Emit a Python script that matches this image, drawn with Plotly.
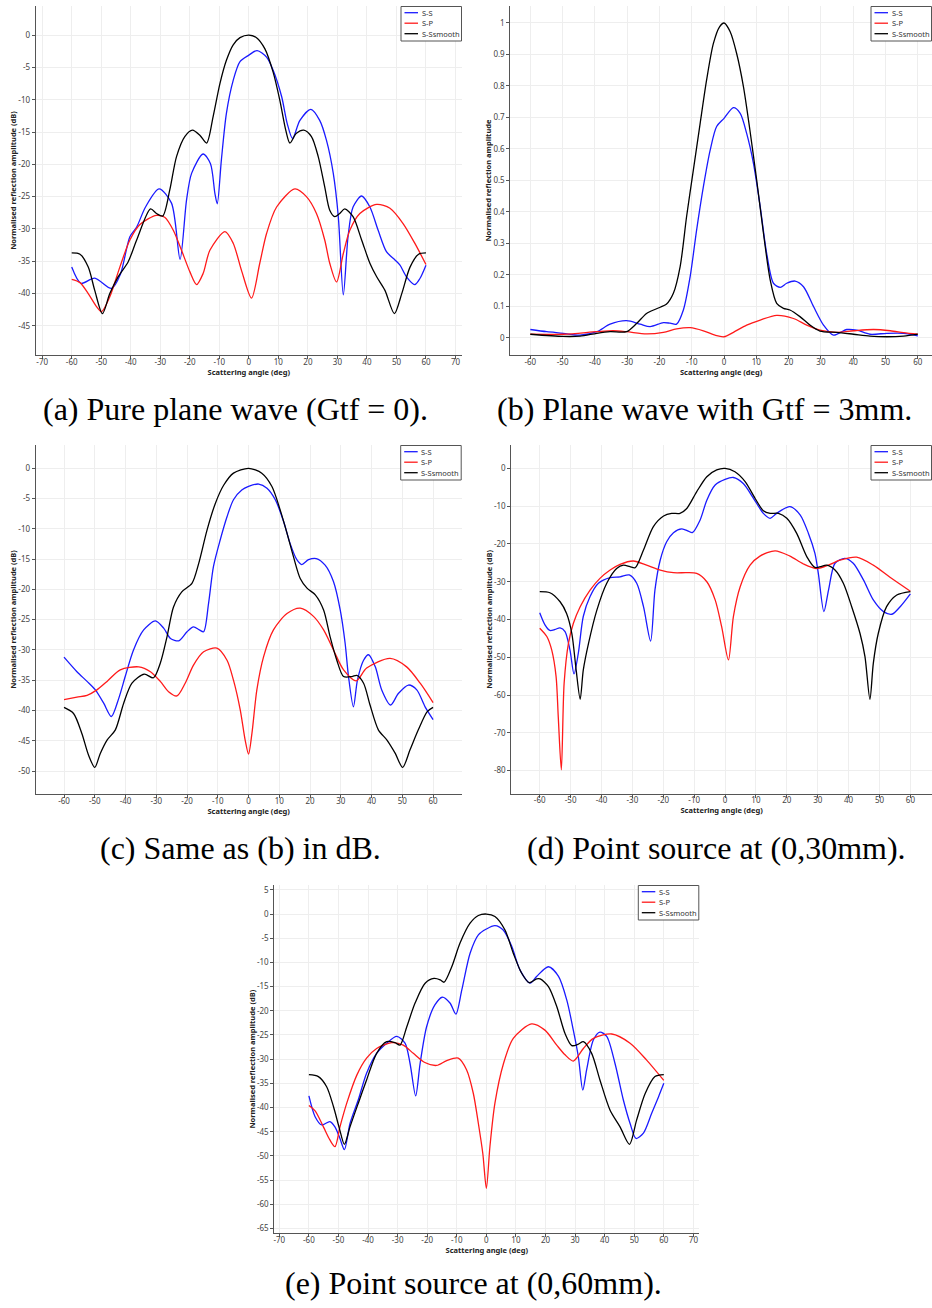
import plotly.graph_objects as go

# ---------------- data ----------------
# (a) Pure plane wave, dB
a_ss_x = [-60, -56.9, -52.2, -46.5, -43.5, -40.3, -38, -35, -30.4, -26.2, -23.3, -21.1, -19.4, -15.5, -13, -11.5, -10.7, -9.3, -7.6, -5.3, -3, 0, 2.8, 6, 8.2, 11.1, 13, 14.8, 17.3, 21, 24, 26.3, 28.6, 30.3, 32, 33.6, 35.3, 38.2, 41, 43.8, 46.6, 49.5, 51.2, 53.4, 56.2, 57.9, 60]
a_ss_y = [-35.9, -38.4, -37.6, -39.2, -37.0, -31.2, -29.7, -26.6, -23.8, -26, -34.7, -25.5, -21.4, -18.4, -19.9, -24.5, -26.1, -19.3, -12.1, -7, -4.1, -3.1, -2.4, -3.4, -5.4, -9.5, -13.7, -16, -13.2, -11.5, -13.2, -16.3, -21.4, -28.1, -40.2, -31.2, -26.6, -24.9, -26.6, -30.2, -33.5, -34.8, -35.6, -37.4, -38.6, -37.7, -35.6]
a_sp_x = [-60, -57.2, -54.4, -51.6, -49.9, -47.1, -43.7, -40.3, -36.9, -31.3, -28.5, -25.6, -22.8, -20, -17.7, -15.5, -13.2, -8.1, -5.3, -2.5, 0.9, 3.7, 6, 9.4, 15.6, 19.5, 22.9, 25.7, 27.4, 29.7, 32, 34.2, 37.6, 43.3, 47.8, 52.3, 56.2, 60]
a_sp_y = [-37.8, -38.3, -40, -42, -42.8, -40.5, -35.9, -31.7, -29.3, -27.9, -28.2, -30.2, -33.3, -36.6, -38.6, -36.9, -33.3, -30.4, -32.2, -36.4, -40.7, -35.3, -30.7, -26.6, -23.8, -25, -27.6, -31.7, -35.3, -38.2, -33.8, -30.2, -27.6, -26.2, -26.8, -29.2, -32.2, -35.5]
a_sm_x = [-60, -57.2, -54.4, -52.2, -49.6, -47.1, -44.3, -40.9, -38, -33.3, -31.3, -29.2, -26.8, -24.5, -21.7, -19.1, -16.6, -14.3, -12.1, -9.8, -7.6, -5.3, -3, 0, 2.6, 5.4, 8.2, 10.5, 12.5, 13.9, 16.1, 18.6, 21.2, 23.5, 25.7, 27.4, 29.1, 30.8, 32.5, 35.3, 38.2, 41, 43.3, 46.1, 49.3, 51.8, 54.6, 57.5, 60]
a_sm_y = [-33.7, -33.9, -35.9, -39.5, -43.1, -40, -37.4, -35.1, -31.7, -26.9, -27.6, -28, -24, -18.8, -15.7, -14.7, -15.5, -16.7, -12.6, -7.5, -3.9, -1.5, -0.4, 0, -0.4, -2.1, -5.7, -10.1, -14.7, -16.7, -15.2, -14.7, -15.7, -18.8, -23.5, -27.1, -28.1, -27.6, -26.9, -28.1, -31.7, -35.3, -37.4, -39.5, -43.1, -40, -35.9, -33.9, -33.7]

# (b) Plane wave with Gtf = 3mm, linear
b_ss_x = [-60, -54.9, -49.8, -44.6, -39.4, -35.3, -30.2, -26, -22.9, -18.8, -16.7, -14.7, -12.6, -10.5, -8.5, -6.4, -4.3, -2.3, 0, 2.9, 5, 7, 9.1, 11.2, 13.2, 15.3, 17.4, 19.4, 22, 24.6, 27.7, 30.8, 33.9, 38, 41.1, 45.2, 50.4, 55.6, 60]
b_ss_y = [0.026, 0.019, 0.014, 0.008, 0.019, 0.043, 0.054, 0.043, 0.035, 0.048, 0.046, 0.043, 0.088, 0.194, 0.342, 0.48, 0.596, 0.671, 0.697, 0.731, 0.713, 0.649, 0.554, 0.416, 0.268, 0.173, 0.16, 0.173, 0.18, 0.162, 0.099, 0.04, 0.008, 0.026, 0.024, 0.011, 0.014, 0.014, 0.006]
b_sp_x = [-60, -49.8, -39.4, -34.3, -30.2, -24, -18.8, -14.7, -10.5, -6.4, -2.8, 0, 2.9, 7, 11.2, 16.3, 21.5, 25.6, 29.7, 34.9, 40.1, 46.3, 51.5, 55.6, 60]
b_sp_y = [0.011, 0.011, 0.019, 0.022, 0.019, 0.012, 0.017, 0.028, 0.032, 0.022, 0.008, 0.003, 0.017, 0.04, 0.056, 0.071, 0.061, 0.04, 0.024, 0.017, 0.022, 0.026, 0.022, 0.016, 0.011]
b_sm_x = [-60, -49.8, -44.6, -39.4, -35.3, -30.2, -27.1, -24, -20.9, -17.8, -15.7, -13.6, -11.6, -9.5, -7.4, -5.4, -3.3, -1.4, 0, 1.9, 3.9, 6, 8, 10.1, 12.2, 14.3, 16.3, 18.4, 20.4, 23.5, 26.6, 29.7, 34.9, 40.1, 45.2, 50.4, 55.6, 60]
b_sm_y = [0.011, 0.004, 0.005, 0.014, 0.019, 0.019, 0.045, 0.077, 0.092, 0.107, 0.141, 0.226, 0.385, 0.533, 0.681, 0.819, 0.935, 0.988, 1.0, 0.972, 0.903, 0.798, 0.66, 0.501, 0.332, 0.183, 0.109, 0.093, 0.088, 0.067, 0.04, 0.021, 0.017, 0.011, 0.005, 0.003, 0.005, 0.011]

# (c) Same as (b) in dB
c_ss_x = [-60, -55.8, -52.5, -49.8, -47.1, -44.6, -42.2, -40.1, -37.4, -34.1, -30.3, -27.6, -25.4, -22.7, -20, -17.9, -16, -14.6, -13, -11.4, -9.2, -7, -4.9, -2.2, 0, 3.3, 6, 8.7, 11.4, 13.5, 15.7, 17.3, 19.5, 22, 24.9, 27.6, 29.8, 31.4, 32.5, 34.1, 35.4, 37.4, 39, 41.2, 43.3, 46.2, 48.7, 52, 54.7, 57.4, 60]
c_ss_y = [-31.2, -33.6, -35.2, -36.6, -38.8, -41, -38, -34.4, -30, -26.7, -25.2, -26.4, -28.1, -28.5, -27, -26.2, -26.7, -27, -22.3, -16.2, -11.8, -8, -5.2, -3.6, -3, -2.6, -3.3, -5.2, -8.8, -12.4, -15.1, -15.9, -15.1, -14.9, -16, -18.7, -23.4, -28.9, -34.4, -39.4, -35, -31.7, -30.8, -32.8, -36.6, -39.1, -37.2, -35.8, -36.6, -39.4, -41.5]
c_sp_x = [-60, -55.8, -52.5, -49.3, -46, -41.7, -35.7, -31.9, -28.7, -26, -23.3, -20.6, -17.9, -14.6, -10.3, -7, -4.9, -2.7, -1.1, 0, 1.1, 2.7, 4.9, 8.1, 12.5, 16.8, 21.2, 24.4, 27.6, 30.9, 35, 38.4, 46, 51.4, 55.8, 60]
c_sp_y = [-38.2, -37.8, -37.5, -36.6, -35.2, -33.3, -32.8, -33.6, -35.2, -36.9, -37.6, -35.5, -32.5, -30.3, -29.7, -31.7, -35, -39.9, -44.9, -47.2, -43.8, -36.6, -31.1, -26.7, -24, -23.1, -24.5, -26.7, -30, -33.3, -35.1, -33, -31.4, -32.8, -35.5, -38.7]
c_sm_x = [-60, -56.9, -54.2, -52, -50, -48.2, -46, -43.3, -40.6, -37.9, -33.9, -30.9, -28.7, -26.5, -24.4, -21.7, -18.4, -16.2, -13.5, -10.8, -8.1, -4.9, 0, 4.3, 7.6, 10.3, 12.5, 14.6, 16.8, 19, 21.7, 24.4, 26.5, 28.7, 30.9, 33.6, 35.2, 37.4, 39.5, 42.2, 45, 47.7, 50.1, 52.5, 55.2, 58.1, 60]
c_sm_y = [-39.5, -40.5, -43.8, -47.4, -49.4, -47.1, -44.9, -43.2, -38.8, -35.5, -34, -34.6, -32.2, -27.8, -22.9, -20.4, -19, -15.7, -10.2, -5.8, -2.8, -0.8, 0, -0.8, -3, -6.9, -10.7, -14.6, -18.2, -19.8, -20.9, -23.4, -27.8, -31.7, -34.4, -34.4, -34.2, -35.5, -39.1, -43.2, -44.9, -47.1, -49.4, -46.5, -43.2, -40.2, -39.5]

# (d) Point source at (0,30mm)
d_ss_x = [-60, -58.3, -56.7, -55, -53.4, -51.8, -50.2, -48.9, -47.5, -45.9, -43.7, -41, -37.2, -34, -31, -28.6, -26.4, -24.1, -22.7, -21, -18.9, -16.7, -14, -11.9, -10.6, -8.1, -5.9, -3.2, 0, 2.7, 5.9, 9.2, 12.4, 14.6, 16.7, 21, 24.3, 27, 29.1, 30.2, 32, 33.5, 35.6, 38.8, 41.5, 44.8, 48, 51.3, 54, 56.7, 60]
d_ss_y = [-38.2, -41.4, -42.9, -42.6, -42.2, -43.2, -48.1, -54.4, -48.9, -39.2, -33.9, -30.4, -28.9, -28.7, -28.2, -30.4, -36.6, -45.7, -32.2, -24.3, -19.4, -17, -16, -16.6, -17, -13.7, -8.4, -4.4, -2.9, -2.4, -4, -7.9, -11.9, -13.2, -11.9, -10.1, -12.3, -17.2, -22.5, -27.8, -37.9, -32.2, -25.1, -23.8, -25.1, -29.5, -34.8, -37.9, -38.6, -36.6, -33.2]
d_sp_x = [-60, -57.7, -56.1, -54.7, -54, -53, -52.1, -50.7, -49.1, -46.9, -43.7, -40.5, -37.2, -34, -29.7, -25.4, -21, -16.7, -12.4, -9.2, -5.9, -3.2, -1.1, 1.1, 2.7, 4.9, 8.1, 11.3, 16.2, 21, 25.4, 29.7, 34, 37.2, 42.6, 48, 53.4, 60]
d_sp_y = [-42.3, -44.5, -48.1, -55.1, -65.7, -79.8, -56.9, -46.3, -41, -36.6, -32.2, -29.1, -26.9, -25.4, -24.5, -25.6, -26.9, -27.6, -27.6, -27.8, -30, -34.8, -41.9, -50.7, -39.2, -31.3, -25.6, -23.2, -21.8, -23.2, -25.3, -26.5, -25.4, -24.3, -23.5, -25.6, -28.8, -32.5]
d_sm_x = [-60, -56.7, -53.4, -51.3, -49.6, -48.2, -46.9, -45.9, -44.2, -41.5, -38.3, -35.1, -32.9, -30.8, -29.1, -26.4, -23.2, -19.9, -17.3, -14.6, -12.4, -9.2, -5.9, -2.7, 0, 3.2, 6.5, 9.7, 12.4, 14.6, 17.3, 20, 23.2, 26.5, 29.1, 30.8, 32.9, 35.6, 38.3, 41, 43.7, 45.3, 46.9, 48, 49.6, 52.3, 55.6, 60]
d_sm_y = [-32.6, -32.9, -35.3, -38.4, -43.7, -53.4, -61.1, -53.4, -46.3, -37.5, -30.4, -26.5, -25.6, -26, -26.3, -21.6, -15.4, -12.6, -11.9, -11.9, -10.6, -6.2, -2.2, -0.4, 0, -0.9, -3.5, -7.9, -11.2, -11.9, -11.9, -13.2, -17.2, -23.4, -26.2, -26, -25.6, -26.9, -30.4, -36.6, -43.7, -49.8, -61.1, -51.6, -43.7, -36.6, -33.5, -32.6]

# (e) Point source at (0,60mm)
e_ss_x = [-60, -57.9, -55.7, -52.9, -51.2, -49.5, -48, -46.1, -43.3, -40.5, -37.1, -33.7, -30.3, -27.5, -25.8, -23.9, -22.4, -20.2, -17.4, -14.9, -12.3, -10.3, -8.3, -5.5, -2.7, 0, 2.9, 5.7, 8.6, 11.4, 14.8, 17, 21, 24.4, 27.2, 29.4, 31.1, 32.6, 33.9, 36.2, 38.4, 40.7, 43.5, 46.3, 48.6, 50.6, 53.1, 55.9, 58.2, 60]
e_ss_y = [-37.6, -41.9, -43.6, -42.9, -44, -46.4, -48.7, -43.3, -38.4, -32.9, -28.8, -26.7, -25.3, -26.7, -30.9, -37.6, -30.9, -23.3, -18.8, -17.2, -18.4, -20.7, -15.7, -8.1, -4.3, -3.1, -2.4, -3.3, -6.7, -11.6, -14.3, -12.9, -10.9, -12.9, -17.8, -24, -29.5, -36.4, -32.2, -26, -24.4, -25.3, -30.9, -38.4, -43.3, -46.4, -45.3, -41.2, -37.8, -35]
e_sp_x = [-60, -57.9, -55.1, -52.9, -51.2, -49.5, -47.2, -43.8, -40.5, -37.1, -32, -28.1, -24.7, -20.8, -16.8, -13.4, -9.5, -6.7, -4.4, -2.7, -1.2, 0, 1.2, 2.9, 5.8, 9.1, 15.3, 19.8, 23.8, 26.6, 29.4, 32.8, 36.2, 42.4, 48.6, 54.2, 60]
e_sp_y = [-39.6, -40.7, -44, -46.7, -48.1, -44, -39.1, -33.3, -29.8, -27.8, -26.6, -27.1, -28.8, -30.7, -31.3, -30.3, -29.8, -32.2, -37.1, -43.3, -49.5, -56.7, -48.1, -39.1, -30.9, -25.7, -22.7, -24, -27.1, -29.1, -30.4, -27.8, -25.7, -24.8, -26.7, -30.2, -34.4]
e_sm_x = [-60, -56.8, -54, -51.7, -49.7, -48, -46.1, -43.3, -40.5, -37.1, -33.7, -30.9, -29.2, -26.9, -24.1, -20.7, -17.7, -15.6, -14.3, -11.7, -8.9, -5.5, -2.7, 0, 2.9, 6.3, 9.1, 11.9, 14.5, 17, 18.2, 21, 23.8, 26.6, 28.9, 31.1, 32.8, 35.6, 38.4, 41.8, 45.2, 48.4, 50.8, 53.7, 57, 60]
e_sm_y = [-33.2, -33.6, -35.7, -39.8, -44.3, -47.6, -44, -39.1, -34.3, -28.8, -26.4, -26.6, -27.1, -23.3, -18.4, -14.3, -13.3, -13.6, -14.1, -10.9, -6, -1.9, -0.3, 0, -0.5, -3.3, -8.1, -12.2, -14.2, -13.4, -13.4, -15, -19.1, -24.7, -27.2, -26.9, -26.4, -28.8, -34.3, -40.5, -44, -47.6, -42.6, -37.1, -33.6, -33.2]

series_names = ["S-S", "S-P", "S-Ssmooth"]

# tick values / labels
x_ticks_70 = [-70, -60, -50, -40, -30, -20, -10, 0, 10, 20, 30, 40, 50, 60, 70]
x_ticks_60 = [-60, -50, -40, -30, -20, -10, 0, 10, 20, 30, 40, 50, 60]
a_yticks = [-45, -40, -35, -30, -25, -20, -15, -10, -5, 0]
b_yticks = [0, 0.1, 0.2, 0.3, 0.4, 0.5, 0.6, 0.7, 0.8, 0.9, 1]
b_ytext = ["0", "0.1", "0.2", "0.3", "0.4", "0.5", "0.6", "0.7", "0.8", "0.9", "1"]
c_yticks = [-50, -45, -40, -35, -30, -25, -20, -15, -10, -5, 0]
d_yticks = [-80, -70, -60, -50, -40, -30, -20, -10, 0]
e_yticks = [5, 0, -5, -10, -15, -20, -25, -30, -35, -40, -45, -50, -55, -60, -65]

captions = ["(a) Pure plane wave (Gtf = 0).",
            "(b) Plane wave with Gtf = 3mm.",
            "(c) Same as (b) in dB.",
            "(d) Point source at (0,30mm).",
            "(e) Point source at (0,60mm)."]

x_title = "Scattering angle (deg)"
y_title_db = "Normalised reflection amplitude (dB)"
y_title_lin = "Normalised reflection amplitude"

# ---------------- layout geometry (pixels) ----------------
W, H = 932, 1308
colors = ["#1a1aff", "#ff1a1a", "#000000"]


def lab(vals):
    return [str(v) for v in vals]


panels = [
    dict(data=[(a_ss_x, a_ss_y), (a_sp_x, a_sp_y), (a_sm_x, a_sm_y)],
         px=(35.7, 462.0, 6.0, 355.0), xr=[-72.2, 72.2], yr=[-49.5, 4.5],
         xt=x_ticks_70, yt=a_yticks, ytt=lab(a_yticks), yti=y_title_db, legr=462.0,
         cap=(235, 409)),
    dict(data=[(b_ss_x, b_ss_y), (b_sp_x, b_sp_y), (b_sm_x, b_sm_y)],
         px=(510.3, 932.0, 6.0, 355.0), xr=[-66.2, 64.4], yr=[-0.055, 1.054],
         xt=x_ticks_60, yt=b_yticks, ytt=b_ytext, yti=y_title_lin, legr=932.0,
         cap=(704, 409)),
    dict(data=[(c_ss_x, c_ss_y), (c_sp_x, c_sp_y), (c_sm_x, c_sm_y)],
         px=(35.7, 461.7, 445.0, 794.0), xr=[-69.2, 69.3], yr=[-53.8, 3.85],
         xt=x_ticks_60, yt=c_yticks, ytt=lab(c_yticks), yti=y_title_db, legr=461.7,
         cap=(240, 848)),
    dict(data=[(d_ss_x, d_ss_y), (d_sp_x, d_sp_y), (d_sm_x, d_sm_y)],
         px=(511.3, 932.0, 445.0, 793.7), xr=[-69.2, 67.0], yr=[-86.1, 6.2],
         xt=x_ticks_60, yt=d_yticks, ytt=lab(d_yticks), yti=y_title_db, legr=932.0,
         cap=(716, 848)),
    dict(data=[(e_ss_x, e_ss_y), (e_sp_x, e_sp_y), (e_sm_x, e_sm_y)],
         px=(274.3, 699.3, 885.0, 1233.3), xr=[-71.7, 72.0], yr=[-66.0, 6.0],
         xt=x_ticks_70, yt=e_yticks, ytt=lab(e_yticks), yti=y_title_db, legr=699.3,
         cap=(474, 1283)),
]

fig = go.Figure()
shapes = []
annotations = []
layout_axes = {}

tick_font = dict(family="Noto Sans, DejaVu Sans, sans-serif", size=8, color="#444444")
title_font = dict(family="Noto Sans, DejaVu Sans, sans-serif", size=7.5, color="#222222", weight="bold")

for i, p in enumerate(panels, start=1):
    l, r, t, b = p["px"]
    sfx = "" if i == 1 else str(i)
    for (xs, ys), c, nm in zip(p["data"], colors, series_names):
        fig.add_trace(go.Scatter(
            x=xs, y=ys, mode="lines", name=nm, showlegend=False,
            line=dict(color=c, width=1.3, shape="spline", smoothing=0.8),
            xaxis="x" + sfx, yaxis="y" + sfx))
    common = dict(showgrid=True, gridcolor="#eeeeee", gridwidth=1, zeroline=False,
                  showline=True, linecolor="#555555", linewidth=1,
                  ticks="outside", ticklen=3, tickcolor="#555555", tickwidth=1,
                  tickfont=tick_font, automargin=False)
    layout_axes["xaxis" + sfx] = dict(
        common, domain=[l / W, min(r / W, 1.0)], range=p["xr"], anchor="y" + sfx,
        tickmode="array", tickvals=p["xt"], ticktext=lab(p["xt"]),
        ticklabelstandoff=-4,
        title=dict(text=x_title, font=title_font, standoff=0))
    layout_axes["yaxis" + sfx] = dict(
        common, domain=[1 - b / H, 1 - t / H], range=p["yr"], anchor="x" + sfx,
        tickmode="array", tickvals=p["yt"], ticktext=p["ytt"],
        title=dict(text=p["yti"], font=title_font, standoff=0))

    # legend box (drawn in paper coordinates, pixel-based)
    lr = p["legr"]
    bx0, bx1, by0, by1 = lr - 61, lr - 0.5, t + 0.5, t + 35
    shapes.append(dict(type="rect", xref="paper", yref="paper",
                       x0=bx0 / W, x1=bx1 / W, y0=1 - by1 / H, y1=1 - by0 / H,
                       line=dict(color="#555555", width=1), fillcolor="white", layer="above"))
    for k, (c, nm) in enumerate(zip(colors, series_names)):
        yy = t + 6.7 + k * 10.5
        shapes.append(dict(type="line", xref="paper", yref="paper",
                           x0=(lr - 57.5) / W, x1=(lr - 44) / W,
                           y0=1 - yy / H, y1=1 - yy / H,
                           line=dict(color=c, width=1.3), layer="above"))
        annotations.append(dict(xref="paper", yref="paper", x=(lr - 42.5) / W, y=1 - yy / H,
                                text=nm, showarrow=False, xanchor="left", yanchor="middle",
                                font=dict(family="Noto Sans, DejaVu Sans, sans-serif",
                                          size=7.5, color="#333333")))
    cx, cy = p["cap"]
    annotations.append(dict(xref="paper", yref="paper", x=cx / W, y=1 - cy / H,
                            text=captions[i - 1], showarrow=False,
                            xanchor="center", yanchor="middle",
                            font=dict(family="Liberation Serif, DejaVu Serif, serif",
                                      size=32, color="black")))

fig.update_layout(
    width=W, height=H,
    margin=dict(l=0, r=0, t=0, b=0),
    paper_bgcolor="white", plot_bgcolor="white",
    showlegend=False,
    shapes=shapes, annotations=annotations,
    **layout_axes)

fig.write_html("out.html",
               config={"staticPlot": True, "displayModeBar": False},
               post_script="document.body.style.margin='0px';document.body.style.padding='0px';")
